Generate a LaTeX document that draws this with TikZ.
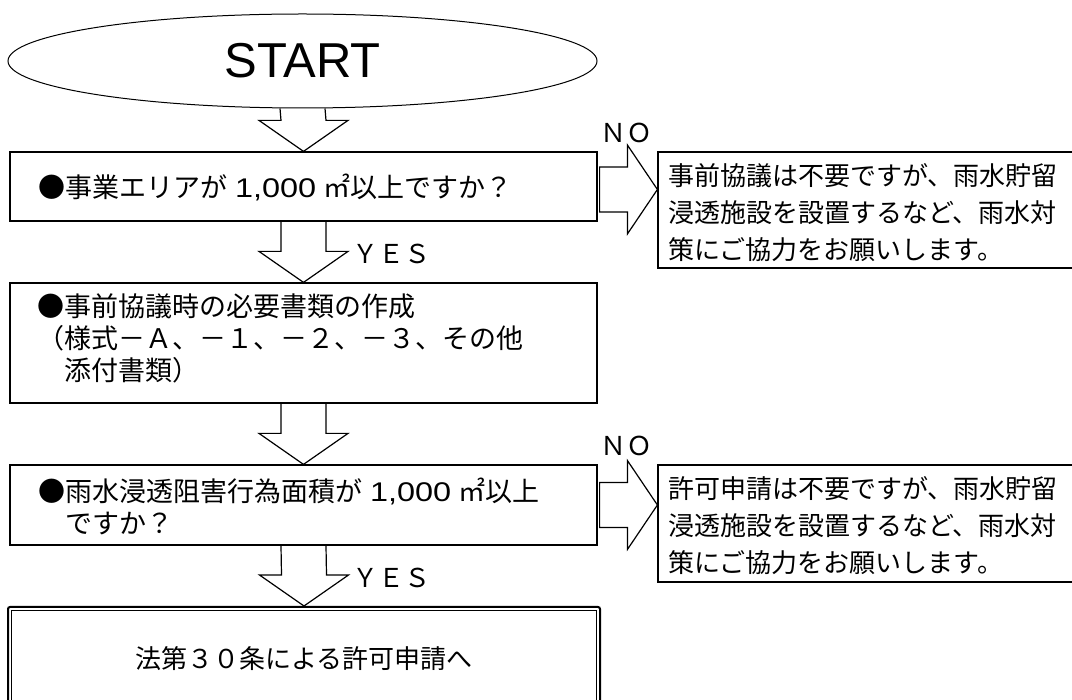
\documentclass[tikz,border=0pt]{standalone}
\usepackage{fontspec}
\setmainfont{Noto Sans CJK JP}
\newfontfamily\latinfont{Liberation Sans}
\usetikzlibrary{shapes.geometric,calc}
\newcommand\numk[1]{{\latinfont\addfontfeature{FakeStretch=1.2}#1}}
\newcommand\fatdown[2]{\draw[arw] ($(#1)+(-22.5,0)$) -- ($(#2)+(-22.5,-31)$) -- ($(#2)+(-44.5,-31)$) -- (#2) -- ($(#2)+(44.5,-31)$) -- ($(#2)+(22.5,-31)$) -- ($(#1)+(22.5,0)$);}
\newcommand\fatright[2]{\draw[arw] ($(#1)+(2,-22.5)$) -- ($(#2)+(-30,-22.5)$) -- ($(#2)+(-30,-44.5)$) -- (#2) -- ($(#2)+(-30,44.5)$) -- ($(#2)+(-30,22.5)$) -- ($(#1)+(2,22.5)$) -- cycle;}
\begin{document}
\begin{tikzpicture}[x=1pt,y=-1pt,
  box/.style={draw, rectangle, inner sep=0, line width=1.2pt},
  arw/.style={draw, line width=1.2pt, line join=miter},
  txt/.style={anchor=west, inner sep=0, align=left, font=\fontsize{27}{32}\selectfont},
  ctxt/.style={anchor=west, inner sep=0, align=left, font=\fontsize{26}{37}\selectfont},
  lbl/.style={anchor=west, inner sep=0, font=\fontsize{26}{26}\selectfont}]
\useasboundingbox (0,0) rectangle (1072,700);
% start
\node[draw, ellipse, line width=1pt, minimum width=589pt, minimum height=94pt, inner sep=0] (start) at (302.5,61)
  {\latinfont\fontsize{49}{49}\selectfont START};
% main boxes
\node[box, minimum width=587pt, minimum height=69pt] (b1) at (303.5,186.5) {};
\node[box, minimum width=587pt, minimum height=120pt] (b2) at (303.5,343) {};
\node[box, minimum width=587pt, minimum height=80pt] (b3) at (303.5,505) {};
\node[draw, rectangle, inner sep=0, line width=2pt, rounded corners=2pt, minimum width=592pt, minimum height=130pt] (b4) at (304,672) {};
\draw[line width=1.3pt] ($(b4.north west)+(4.5,4.5)$) rectangle ($(b4.south east)+(-4.5,-4.5)$);
% comment boxes
\node[box, minimum width=422pt, minimum height=116pt] (c1) at (869,210) {};
\node[box, minimum width=422pt, minimum height=117pt] (c2) at (869,523.5) {};
% texts
\node[txt] (t1) at (38,187) {●事業エリアが\hspace{8pt}\numk{1,000}\hspace{7pt}㎡以上ですか？};
\node[txt] (t2) at (37,338) {●事前協議時の必要書類の作成\\（様式－Ａ、－１、－２、－３、その他\\　添付書類）};
\node[txt] (t3) at (38,506) {●雨水浸透阻害行為面積が\hspace{8pt}\numk{1,000}\hspace{7pt}㎡以上\\　ですか？};
\node[lbl, anchor=center] (t4) at ($(b4.north)+(0,53)$) {法第３０条による許可申請へ};
\node[ctxt] (ct1) at (668,213) {事前協議は不要ですが、雨水貯留\\浸透施設を設置するなど、雨水対\\策にご協力をお願いします。};
\node[ctxt] (ct2) at (668,526) {許可申請は不要ですが、雨水貯留\\浸透施設を設置するなど、雨水対\\策にご協力をお願いします。};
% labels
\node[lbl] (yes1) at (352,254) {ＹＥＳ};
\node[lbl] (yes2) at (352,578) {ＹＥＳ};
\node[lbl] (no1) at (600,133) {ＮＯ};
\node[lbl] (no2) at (600,446) {ＮＯ};
% down arrows
\fatdown{start.south}{b1.north}
\fatdown{b1.south}{b2.north}
\fatdown{b2.south}{b3.north}
\fatdown{b3.south}{b4.north}
% right arrows
\coordinate (r1s) at ($(b1.east)+(0,3)$);
\coordinate (r1t) at (c1.west |- r1s);
\coordinate (r2s) at (b3.east);
\coordinate (r2t) at (c2.west |- r2s);
\fatright{r1s}{r1t}
\fatright{r2s}{r2t}
\end{tikzpicture}
\end{document}
